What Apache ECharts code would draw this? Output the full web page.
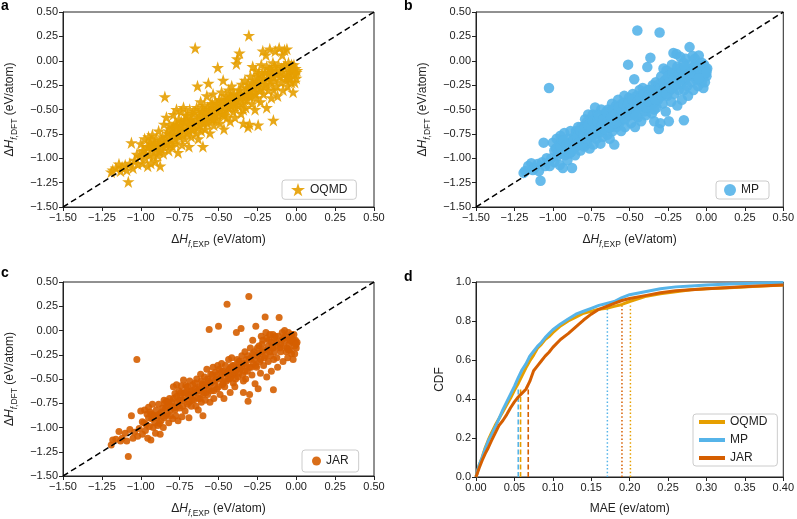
<!DOCTYPE html>
<html>
<head>
<meta charset="utf-8">
<script src="https://cdn.jsdelivr.net/npm/echarts/dist/echarts.min.js"></script>
<style>html,body{margin:0;padding:0;background:#fff;}#c{width:797px;height:519px;}</style>
</head>
<body>
<div id="c"></div>
<script>
// ---------------- DATA ----------------
// Experimental formation enthalpies (shared x values, eV/atom)
const expX = [
  -1.19,-1.18,-1.16,-1.14,-1.13,-1.12,-1.10,-1.09,-1.08,-1.07,-1.06,-1.05,-1.04,
  -1.025,-1.02,-1.01,-1.00,-0.99,-0.98,-0.975,-0.97,-0.96,-0.955,-0.95,-0.945,-0.94,-0.935,-0.93,-0.925,-0.92,-0.915,-0.91,-0.905,-0.90,-0.895,
  -0.89,-0.885,-0.88,-0.875,-0.87,-0.86,-0.855,-0.85,-0.845,-0.84,-0.835,-0.83,-0.82,-0.815,-0.81,-0.80,-0.795,-0.79,-0.785,-0.78,-0.775,-0.77,-0.765,-0.76,-0.755,
  -0.75,-0.745,-0.74,-0.735,-0.73,-0.725,-0.72,-0.715,-0.71,-0.70,-0.695,-0.69,-0.685,-0.68,-0.675,-0.67,-0.665,-0.66,-0.65,-0.645,-0.64,-0.635,-0.63,-0.625,-0.62,-0.615,-0.61,-0.605,-0.60,
  -0.595,-0.59,-0.585,-0.58,-0.575,-0.57,-0.565,-0.56,-0.555,-0.55,-0.545,-0.54,-0.535,-0.53,-0.525,-0.52,-0.515,-0.51,-0.505,-0.50,-0.495,-0.49,-0.485,-0.48,-0.475,-0.47,-0.465,-0.46,-0.455,-0.45,-0.445,
  -0.44,-0.435,-0.43,-0.425,-0.42,-0.415,-0.41,-0.405,-0.40,-0.395,-0.39,-0.385,-0.38,-0.375,-0.37,-0.365,-0.36,-0.355,-0.35,-0.345,-0.34,-0.335,-0.33,-0.325,-0.32,-0.315,-0.31,-0.305,-0.30,-0.30,
  -0.295,-0.29,-0.285,-0.28,-0.275,-0.27,-0.265,-0.26,-0.255,-0.25,-0.245,-0.24,-0.235,-0.23,-0.225,-0.22,-0.215,-0.21,-0.205,-0.20,-0.195,-0.19,-0.185,-0.18,-0.175,-0.17,-0.165,-0.16,-0.155,-0.15,-0.147,
  -0.145,-0.14,-0.135,-0.13,-0.125,-0.12,-0.115,-0.11,-0.105,-0.10,-0.095,-0.09,-0.085,-0.08,-0.075,-0.07,-0.065,-0.06,-0.055,-0.05,-0.045,-0.04,-0.035,-0.03,-0.025,-0.02,-0.015,-0.01,-0.005,0.00,0.005,
  // dense core
  -0.99,-0.965,-0.95,-0.93,-0.91,-0.89,-0.88,-0.865,-0.85,-0.84,
  -0.83,-0.82,-0.81,-0.80,-0.79,-0.78,-0.77,-0.76,-0.75,-0.74,
  -0.73,-0.72,-0.71,-0.70,-0.69,-0.68,-0.67,-0.66,-0.65,-0.64,
  -0.63,-0.62,-0.61,-0.60,-0.59,-0.58,-0.57,-0.56,-0.55,-0.54,
  -0.53,-0.52,-0.51,-0.50,-0.49,-0.48,-0.47,-0.46,-0.45,-0.44,
  -0.43,-0.42,-0.41,-0.40,-0.39,-0.38,-0.37,-0.36,-0.35,-0.34,
  -0.33,-0.32,-0.31,-0.30,-0.29,-0.28,-0.27,-0.26,-0.25,-0.24,
  -0.23,-0.22,-0.21,-0.20,-0.19,-0.18,-0.17,-0.16,-0.15,-0.14,
  -0.12,-0.10,-0.08,-0.06,-0.04,-0.02,0.00,-0.01,-0.03,-0.05
];
// DFT formation enthalpies, OQMD
const oqmdDFT = [
  -1.14,-1.12,-1.10,-1.06,-1.13,-1.09,-1.07,-1.12,-1.24,-1.05,-0.84,-1.10,-1.02,
  -0.96,-1.06,-0.98,-0.85,-1.05,-0.92,-0.80,-1.00,-0.88,-1.08,-0.78,-0.96,-0.84,-1.05,-0.90,-0.76,-0.98,-0.86,-0.93,-1.03,-0.80,-0.88,
  -0.97,-0.72,-0.84,-1.08,-0.90,-0.78,-0.95,-0.65,-0.37,-0.86,-0.58,-0.74,-0.92,-0.66,-0.80,-0.70,-0.88,-0.55,-0.76,-0.64,-0.84,-0.50,-0.72,-0.94,-0.60,
  -0.78,-0.66,-0.52,-0.86,-0.70,-0.48,-0.62,-0.80,-0.56,-0.74,-0.66,-0.88,-0.50,-0.60,-0.78,-0.70,-0.54,-0.64,0.13,-0.74,-0.48,-0.26,-0.80,-0.56,-0.66,-0.42,-0.72,-0.52,-0.88,
  -0.62,-0.46,-0.70,-0.56,-0.36,-0.64,-0.23,-0.52,-0.74,-0.44,-0.60,-0.50,-0.34,-0.66,-0.56,-0.42,-0.48,-0.60,-0.07,-0.52,-0.40,-0.64,-0.46,-0.32,-0.55,-0.20,-0.70,-0.44,-0.36,-0.50,-0.58,
  -0.40,-0.30,-0.48,-0.62,-0.36,-0.26,-0.44,-0.52,-0.34,-0.58,-0.40,-0.03,0.02,-0.46,-0.30,0.08,-0.38,-0.54,-0.24,-0.44,-0.64,-0.34,-0.20,-0.48,-0.28,-0.40,-0.68,0.26,-0.36,-0.65,
  -0.16,-0.26,-0.44,-0.06,-0.32,-0.20,-0.50,-0.10,-0.38,-0.24,-0.66,-0.14,-0.30,-0.42,-0.04,-0.20,0.10,-0.34,-0.26,-0.12,0.06,-0.48,-0.18,-0.30,-0.08,0.12,-0.24,-0.38,-0.14,-0.02,-0.61,
  -0.30,-0.20,0.10,-0.10,-0.26,-0.36,-0.04,0.13,-0.16,-0.22,-0.08,0.06,-0.30,-0.14,0.11,-0.04,-0.20,0.12,-0.26,-0.02,-0.12,-0.18,-0.06,-0.22,-0.10,-0.32,-0.04,-0.14,-0.08,-0.18,-0.10,
  -0.93,-0.95,-0.88,-0.82,-0.86,-0.86,-0.93,-0.82,-0.88,-0.78,
  -0.84,-0.72,-0.86,-0.76,-0.68,-0.80,-0.66,-0.76,-0.70,-0.62,
  -0.76,-0.68,-0.62,-0.56,-0.72,-0.66,-0.60,-0.70,-0.52,-0.62,
  -0.68,-0.58,-0.50,-0.64,-0.54,-0.62,-0.48,-0.58,-0.52,-0.44,
  -0.60,-0.50,-0.44,-0.56,-0.48,-0.40,-0.52,-0.56,-0.42,-0.48,
  -0.38,-0.46,-0.34,-0.42,-0.48,-0.36,-0.42,-0.30,-0.36,-0.50,
  -0.40,-0.34,-0.24,-0.28,-0.36,-0.22,-0.28,-0.34,-0.16,-0.22,
  -0.28,-0.12,-0.18,-0.24,-0.06,-0.14,-0.20,-0.10,-0.16,-0.06,
  -0.14,-0.12,-0.06,-0.16,-0.10,-0.08,-0.12,-0.22,-0.04,-0.18
];
// DFT formation enthalpies, MP
const mpDFT = [
  -1.15,-1.13,-1.08,-1.05,-1.12,-1.10,-1.06,-1.13,-1.23,-1.04,-0.84,-1.08,-1.00,
  -0.28,-1.08,-1.00,-0.84,-1.04,-0.90,-0.80,-0.98,-0.87,-1.07,-0.77,-0.95,-0.82,-1.10,-0.89,-0.74,-0.97,-0.84,-0.93,-1.02,-0.80,-0.86,
  -0.95,-0.72,-0.83,-1.10,-0.90,-0.78,-0.97,-0.72,-0.73,-0.86,-0.68,-0.74,-0.92,-0.68,-0.80,-0.70,-0.88,-0.60,-0.77,-0.63,-0.85,-0.55,-0.72,-0.90,-0.60,
  -0.78,-0.66,-0.55,-0.86,-0.70,-0.48,-0.63,-0.80,-0.55,-0.74,-0.66,-0.85,-0.50,-0.60,-0.78,-0.70,-0.55,-0.64,-0.58,-0.76,-0.50,-0.60,-0.80,-0.58,-0.68,-0.44,-0.72,-0.52,-0.86,
  -0.62,-0.46,-0.68,-0.56,-0.40,-0.65,-0.50,-0.52,-0.72,-0.44,-0.60,-0.50,-0.36,-0.68,-0.54,-0.42,-0.48,-0.04,-0.38,-0.52,-0.40,-0.64,-0.46,-0.34,-0.55,-0.19,-0.68,-0.44,-0.36,0.31,-0.58,
  -0.40,-0.30,-0.48,-0.62,-0.36,-0.28,-0.44,-0.52,-0.34,-0.56,-0.40,-0.065,-0.30,-0.46,-0.30,0.03,-0.38,-0.54,-0.25,-0.44,-0.62,-0.34,-0.22,-0.48,-0.28,-0.40,-0.70,0.29,-0.36,-0.64,
  -0.16,-0.26,-0.44,-0.08,-0.32,-0.20,-0.52,-0.10,-0.36,-0.24,-0.62,-0.14,-0.30,-0.42,-0.04,-0.20,0.08,-0.34,-0.26,-0.12,0.07,-0.46,-0.18,-0.30,-0.08,0.04,-0.24,-0.40,-0.14,-0.02,-0.61,
  -0.30,-0.20,0.02,-0.10,-0.26,-0.36,-0.04,0.14,-0.16,-0.22,-0.08,0.05,-0.30,-0.14,0.02,-0.04,-0.20,-0.10,-0.26,0.055,-0.12,-0.18,-0.06,-0.22,-0.10,-0.28,-0.04,-0.14,-0.08,-0.16,-0.08,
  -0.92,-0.94,-0.88,-0.82,-0.86,-0.86,-0.93,-0.82,-0.88,-0.78,
  -0.84,-0.72,-0.86,-0.76,-0.68,-0.80,-0.66,-0.76,-0.70,-0.62,
  -0.76,-0.68,-0.62,-0.56,-0.72,-0.66,-0.60,-0.70,-0.52,-0.62,
  -0.68,-0.58,-0.50,-0.64,-0.54,-0.62,-0.48,-0.58,-0.52,-0.44,
  -0.60,-0.50,-0.44,-0.56,-0.48,-0.40,-0.52,-0.56,-0.42,-0.48,
  -0.38,-0.46,-0.34,-0.42,-0.48,-0.36,-0.42,-0.30,-0.36,-0.50,
  -0.40,-0.34,-0.24,-0.28,-0.36,-0.22,-0.28,-0.34,-0.16,-0.22,
  -0.28,-0.12,-0.18,-0.24,-0.06,-0.14,-0.20,-0.10,-0.16,-0.06,
  -0.14,-0.12,-0.06,-0.16,-0.10,-0.08,-0.12,-0.22,-0.02,-0.18
];
// DFT formation enthalpies, JAR
const jarDFT = [
  -1.18,-1.13,-1.12,-1.04,-1.14,-1.11,-1.06,-1.14,-1.30,-1.02,-0.88,-1.11,-1.05,
  -0.30,-1.09,-1.01,-0.83,-1.07,-0.95,-0.82,-1.03,-0.86,-1.11,-0.79,-0.99,-0.84,-1.13,-0.91,-0.76,-1.00,-0.88,-0.95,-1.06,-0.82,-0.90,
  -0.98,-0.76,-0.86,-1.07,-0.93,-0.80,-1.00,-0.72,-0.75,-0.88,-0.73,-0.78,-0.95,-0.70,-0.82,-0.74,-0.91,-0.58,-0.80,-0.65,-0.88,-0.56,-0.74,-0.93,-0.62,
  -0.80,-0.68,-0.57,-0.89,-0.72,-0.51,-0.64,-0.83,-0.57,-0.76,-0.66,-0.90,-0.52,-0.62,-0.78,-0.72,-0.56,-0.66,-0.60,-0.78,-0.50,-0.62,-0.82,-0.58,-0.70,-0.45,-0.74,-0.55,-0.88,
  -0.64,-0.48,-0.72,-0.57,-0.40,-0.66,-0.52,0.01,-0.74,-0.45,-0.62,-0.52,-0.38,-0.70,-0.56,-0.43,-0.50,-0.60,-0.36,0.045,-0.40,-0.66,-0.48,-0.34,-0.56,-0.42,-0.70,-0.45,-0.36,-0.52,0.27,
  -0.42,-0.30,-0.50,-0.64,-0.38,-0.28,-0.46,-0.54,-0.36,-0.58,-0.42,-0.02,-0.30,-0.48,-0.32,-0.38,-0.40,0.02,-0.26,-0.46,-0.64,-0.34,-0.22,-0.50,-0.30,-0.42,-0.73,0.35,-0.38,-0.66,
  -0.18,-0.28,-0.46,-0.10,-0.34,-0.22,-0.55,0.045,-0.38,-0.26,-0.60,-0.16,-0.32,-0.44,-0.06,-0.22,-0.10,-0.36,-0.28,0.14,-0.02,-0.48,-0.20,-0.32,-0.10,-0.04,-0.26,-0.42,-0.16,-0.04,-0.61,
  -0.30,-0.22,-0.06,-0.12,-0.28,-0.38,-0.06,0.135,-0.18,-0.22,-0.10,-0.02,-0.32,-0.16,0.00,-0.06,-0.22,-0.10,-0.28,-0.02,-0.14,-0.20,-0.06,-0.24,-0.12,-0.30,-0.04,-0.16,-0.10,-0.18,-0.12,
  -0.94,-0.97,-0.90,-0.86,-0.88,-0.88,-0.96,-0.84,-0.90,-0.80,
  -0.86,-0.74,-0.88,-0.78,-0.70,-0.82,-0.68,-0.78,-0.72,-0.64,
  -0.78,-0.70,-0.64,-0.58,-0.74,-0.68,-0.62,-0.72,-0.54,-0.64,
  -0.70,-0.60,-0.52,-0.66,-0.56,-0.64,-0.50,-0.60,-0.54,-0.46,
  -0.62,-0.52,-0.46,-0.58,-0.50,-0.42,-0.54,-0.58,-0.44,-0.50,
  -0.40,-0.48,-0.36,-0.44,-0.50,-0.38,-0.44,-0.32,-0.38,-0.52,
  -0.42,-0.36,-0.26,-0.30,-0.38,-0.24,-0.30,-0.36,-0.18,-0.24,
  -0.30,-0.14,-0.20,-0.26,-0.08,-0.16,-0.22,-0.12,-0.18,-0.08,
  -0.16,-0.14,-0.08,-0.18,-0.10,-0.10,-0.14,-0.24,-0.04,-0.20
];
// parity line
const diagX = [-1.5, 0.5];
const diagY = [-1.5, 0.5];

// CDF of MAE (panel d)
const maeGrid = [0,0.004,0.008,0.012,0.016,0.02,0.025,0.03,0.035,0.04,0.045,0.05,0.055,0.06,0.065,0.07,0.075,0.08,0.085,0.09,0.095,0.10,0.11,0.12,0.13,0.14,0.15,0.16,0.17,0.18,0.19,0.20,0.22,0.24,0.26,0.28,0.30,0.33,0.36,0.40];
const oqmdCdf = [0,0.06,0.10,0.15,0.19,0.225,0.265,0.30,0.335,0.37,0.405,0.445,0.48,0.52,0.56,0.595,0.625,0.66,0.68,0.705,0.72,0.74,0.775,0.80,0.82,0.84,0.85,0.86,0.865,0.875,0.885,0.90,0.925,0.94,0.95,0.96,0.965,0.97,0.977,0.985];
const mpCdf   = [0,0.06,0.10,0.145,0.185,0.215,0.255,0.30,0.345,0.385,0.425,0.465,0.51,0.55,0.58,0.62,0.645,0.67,0.69,0.715,0.735,0.755,0.785,0.81,0.835,0.85,0.865,0.88,0.89,0.90,0.92,0.935,0.95,0.965,0.975,0.98,0.985,0.99,0.993,0.998];
const jarCdf  = [0,0.045,0.085,0.12,0.15,0.185,0.225,0.265,0.29,0.32,0.355,0.385,0.41,0.43,0.45,0.49,0.545,0.57,0.595,0.62,0.64,0.665,0.705,0.735,0.77,0.805,0.835,0.86,0.875,0.89,0.905,0.915,0.93,0.945,0.955,0.96,0.965,0.972,0.978,0.985];
const datasetNames = ['OQMD','MP','JAR'];
const medianMAE = [0.058, 0.055, 0.068];
const medianTop = [0.46, 0.45, 0.46];
const p90MAE = [0.201, 0.171, 0.190];
const p90Top = [0.88, 0.87, 0.88];

// ---------------- STYLE ----------------
const COLORS = {OQMD:'#E69F00', MP:'#56B4E9', JAR:'#D55E00'};
const FONT = 'Liberation Sans, Arial, Helvetica, sans-serif';
const STAR = 'path://M50,2 L61.2,36.5 L97.6,36.5 L68.2,57.9 L79.4,92.5 L50,71.1 L20.6,92.5 L31.8,57.9 L2.4,36.5 L38.8,36.5 Z';
const INK = '#222';
const minus = s => s.replace('-', '\u2212');

const grids = [
  {left:63, top:12, width:311, height:195},
  {left:476, top:12, width:310, height:195},
  {left:63, top:282, width:311, height:195},
  {left:476, top:282, width:310, height:195}
];

const nameRich = {
  d:{fontSize:12, fontFamily:FONT, color:INK, verticalAlign:'bottom', padding:[0,0,3,0]},
  i:{fontSize:12, fontFamily:FONT, color:INK, fontStyle:'italic', verticalAlign:'bottom', padding:[0,0,3,0]},
  si:{fontSize:8.5, fontFamily:FONT, color:INK, fontStyle:'italic', verticalAlign:'bottom'},
  s:{fontSize:8.5, fontFamily:FONT, color:INK, verticalAlign:'bottom'}
};
const expName = '{d|\u0394}{i|H}{si|f}{s|,EXP}{d| (eV/atom)}';
const dftName = '{d|\u0394}{i|H}{si|f}{s|,DFT}{d| (eV/atom)}';

function axisCommon(gi, min, max, interval, dec) {
  return {
    type:'value', gridIndex:gi, min:min, max:max, interval:interval,
    splitLine:{show:false},
    axisLine:{show:true, onZero:false, lineStyle:{color:INK, width:1}},
    axisTick:{show:true, inside:false, length:4, lineStyle:{color:INK, width:1}},
    axisLabel:{fontSize:11, color:INK, fontFamily:FONT, margin:5,
      formatter: v => minus(Number(v).toFixed(dec))},
    nameLocation:'middle'
  };
}
const xAxes = [0,1,2].map(gi => Object.assign(axisCommon(gi,-1.5,0.5,0.25,2), {
  name: expName, nameGap: 27, nameTextStyle:{rich:nameRich}
}));
xAxes.push(Object.assign(axisCommon(3,0,0.4,0.05,2), {
  name:'MAE (ev/atom)', nameGap:26, nameTextStyle:{fontSize:12, color:INK, fontFamily:FONT}
}));
const yAxes = [0,1,2].map(gi => Object.assign(axisCommon(gi,-1.5,0.5,0.25,2), {
  name: dftName, nameGap: 44, nameRotate:90, nameTextStyle:{rich:nameRich}
}));
yAxes.push(Object.assign(axisCommon(3,0,1.0,0.2,1), {
  name:'CDF', nameGap:30, nameRotate:90, nameTextStyle:{fontSize:12, color:INK, fontFamily:FONT}
}));

const scatterDefs = [
  {name:'OQMD', y:oqmdDFT, symbol:STAR, size:12.5},
  {name:'MP', y:mpDFT, symbol:'circle', size:10.5},
  {name:'JAR', y:jarDFT, symbol:'circle', size:7}
];
const series = [];
scatterDefs.forEach((d, gi) => {
  series.push({
    type:'scatter', name:d.name, xAxisIndex:gi, yAxisIndex:gi,
    symbol:d.symbol, symbolSize:d.size,
    itemStyle:{color:COLORS[d.name], opacity:0.9},
    data: expX.map((x,i) => [x, d.y[i]]), z:2
  });
  series.push({
    type:'line', name:'diag'+gi, xAxisIndex:gi, yAxisIndex:gi, symbol:'none',
    lineStyle:{color:'#000', width:1.5, type:[6,3.5]},
    data: diagX.map((x,i) => [x, diagY[i]]), z:5, silent:true
  });
});
// vertical reference lines in panel d
datasetNames.forEach((n, k) => {
  series.push({
    type:'line', name:n+'-med', xAxisIndex:3, yAxisIndex:3, symbol:'none',
    lineStyle:{color:COLORS[n], width:1.6, type:[5,2.5]},
    data:[[medianMAE[k],0],[medianMAE[k],medianTop[k]]], z:2, silent:true
  });
  series.push({
    type:'line', name:n+'-p90', xAxisIndex:3, yAxisIndex:3, symbol:'none',
    lineStyle:{color:COLORS[n], width:1.5, type:[1.5,2.2]},
    data:[[p90MAE[k],0],[p90MAE[k],p90Top[k]]], z:2, silent:true
  });
});
const cdfs = {OQMD:oqmdCdf, MP:mpCdf, JAR:jarCdf};
datasetNames.forEach(n => {
  series.push({
    type:'line', name:n+'-cdf', xAxisIndex:3, yAxisIndex:3, symbol:'none',
    lineStyle:{color:COLORS[n], width:3}, itemStyle:{color:COLORS[n]},
    data: maeGrid.map((x,i) => [x, cdfs[n][i]]), z:3
  });
});

const legendBase = {
  orient:'vertical', selectedMode:false,
  borderColor:'#cccccc', borderWidth:1, borderRadius:3, backgroundColor:'#fff',
  textStyle:{fontSize:12, color:INK, fontFamily:FONT}
};
const legends = [
  Object.assign({}, legendBase, {data:[{name:'OQMD', icon:STAR}], left:282, top:180, itemWidth:14, itemHeight:14, padding:[3,9,3,9]}),
  Object.assign({}, legendBase, {data:[{name:'MP', icon:'circle'}], left:716, top:181, itemWidth:12, itemHeight:12, padding:[3,10,3,8]}),
  Object.assign({}, legendBase, {data:[{name:'JAR', icon:'circle'}], left:302, top:450, itemWidth:9, itemHeight:9, padding:[5,10,5,10]}),
  Object.assign({}, legendBase, {data:datasetNames.map(n => ({name:n+'-cdf', icon:'rect'})), left:693, top:414,
    itemWidth:26, itemHeight:4, itemGap:6, padding:[2,10,2,6],
    formatter: nm => nm.replace('-cdf','')})
];

const letter = (t, x, y) => ({type:'text', left:x, top:y, style:{text:t, font:'bold 14px ' + FONT, fill:'#000'}});

const chart = echarts.init(document.getElementById('c'));
chart.setOption({
  animation:false,
  backgroundColor:'#fff',
  textStyle:{fontFamily:FONT},
  grid: grids.map(g => Object.assign({show:true, borderColor:INK, borderWidth:1, backgroundColor:'transparent'}, g)),
  xAxis: xAxes,
  yAxis: yAxes,
  legend: legends,
  series: series,
  graphic: [letter('a',1,-1), letter('b',404,-1), letter('c',1,266), letter('d',404,270)]
});
</script>
</body>
</html>
